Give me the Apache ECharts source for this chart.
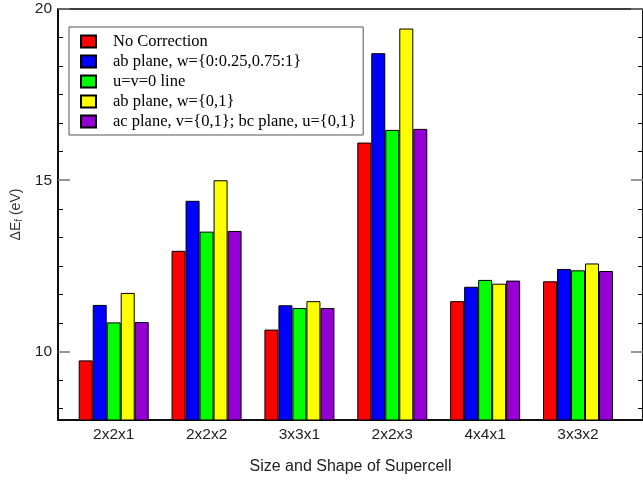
<!DOCTYPE html>
<html>
<head>
<meta charset="utf-8">
<script src="https://cdn.jsdelivr.net/npm/echarts@6/dist/echarts.min.js"></script>
<style>
html,body{margin:0;padding:0;background:#fff;}
#chart{width:643px;height:480px;}
</style>
</head>
<body>
<div id="chart"></div>
<script>
const categories = ['2x2x1', '2x2x2', '3x3x1', '2x2x3', '4x4x1', '3x3x2'];
const categoryPositions = [1, 2, 3, 4, 5, 6];
const seriesNames = [
  'No Correction',
  'ab plane, w={0:0.25,0.75:1}',
  'u=v=0 line',
  'ab plane, w={0,1}',
  'ac plane, v={0,1}; bc plane, u={0,1}'
];
const noCorrection = [9.74, 12.94, 10.64, 16.10, 11.47, 12.05];
const abPlaneW = [11.36, 14.40, 11.35, 18.71, 11.89, 12.41];
const uvLine = [10.85, 13.50, 11.27, 16.47, 12.09, 12.37];
const abPlane01 = [11.71, 15.00, 11.47, 19.43, 11.98, 12.57];
const acBcPlane = [10.86, 13.52, 11.27, 16.50, 12.07, 12.35];
const seriesColors = ['#ff0000', '#0000ff', '#00ff00', '#ffff00', '#9400d3'];
const majorTicks = [10, 15, 20];
const minorPerMajor = 6;

const yMin = 8, yMax = 20;
const minorTicks = [];
for (let m = 5; m < yMax; m += 5) {
  for (let k = 1; k < minorPerMajor; k++) {
    const v = m + 5 * k / minorPerMajor;
    if (v > yMin && v < yMax) minorTicks.push(v);
  }
}

const allValues = [noCorrection, abPlaneW, uvLine, abPlane01, acBcPlane];
const chart = echarts.init(document.getElementById('chart'), null, {renderer: 'canvas'});

function yAxisDef(pos, ticks, len, color, width, showLine, showLabel) {
  return {
    type: 'value', min: yMin, max: yMax, position: pos,
    axisLine: {show: showLine, lineStyle: {color: '#000', width: 1.5}},
    axisTick: {show: true, inside: true, customValues: ticks, length: len, lineStyle: {color: color, width: width}},
    axisLabel: {show: showLabel, customValues: majorTicks, fontFamily: 'Liberation Sans', fontSize: 15.5, color: '#222', margin: 6},
    splitLine: {show: false}
  };
}

const yAxes = [
  Object.assign(yAxisDef('left', majorTicks, 12, '#777', 1.5, true, true), {
    name: '{a|ΔE}{s|f}{a| (eV)}',
    nameLocation: 'middle',
    nameGap: 31,
    nameRotate: 90,
    nameTextStyle: {rich: {
      a: {fontFamily: 'Liberation Sans', fontSize: 14, color: '#333'},
      s: {fontFamily: 'Liberation Sans', fontSize: 10, color: '#333', verticalAlign: 'bottom', padding: [6, 0, 0, 0]}
    }}
  }),
  yAxisDef('left', minorTicks, 5, '#000', 1, false, false),
  yAxisDef('right', majorTicks, 12, '#777', 1.5, true, false),
  yAxisDef('right', minorTicks, 5, '#000', 1, false, false)
];

chart.setOption({
  animation: false,
  backgroundColor: '#fff',
  grid: {left: 58, top: 9, width: 589, height: 413, show: true, borderColor: '#000', borderWidth: 1.5, backgroundColor: 'transparent'},
  legend: {
    orient: 'vertical', left: 69, top: 27,
    padding: [6, 7, 5, 11],
    borderColor: '#555', borderWidth: 1, backgroundColor: '#fff',
    itemWidth: 15, itemHeight: 12, itemGap: 3,
    icon: 'rect',
    textStyle: {fontFamily: 'Liberation Serif', fontSize: 16.5, color: '#000', lineHeight: 16, padding: [0, 0, 0, 12]},
    data: seriesNames
  },
  xAxis: {
    type: 'value', min: 0.4, max: 6.7,
    axisLine: {show: true, lineStyle: {color: '#000', width: 1.5}},
    axisTick: {show: false},
    splitLine: {show: false},
    axisLabel: {
      customValues: categoryPositions,
      formatter: v => categories[categoryPositions.indexOf(Math.round(v))] || '',
      fontFamily: 'Liberation Sans', fontSize: 15.5, color: '#222', margin: 7
    },
    name: 'Size and Shape of Supercell',
    nameLocation: 'middle',
    nameGap: 39,
    nameTextStyle: {fontFamily: 'Liberation Sans', fontSize: 16, color: '#222'}
  },
  yAxis: yAxes,
  series: allValues.map((vals, i) => ({
    type: 'bar',
    name: seriesNames[i],
    yAxisIndex: 0,
    barWidth: 14,
    barGap: '0%',
    itemStyle: {color: seriesColors[i], borderColor: '#000', borderWidth: 1},
    data: vals.map((v, j) => [categoryPositions[j], v])
  }))
});
</script>
</body>
</html>
